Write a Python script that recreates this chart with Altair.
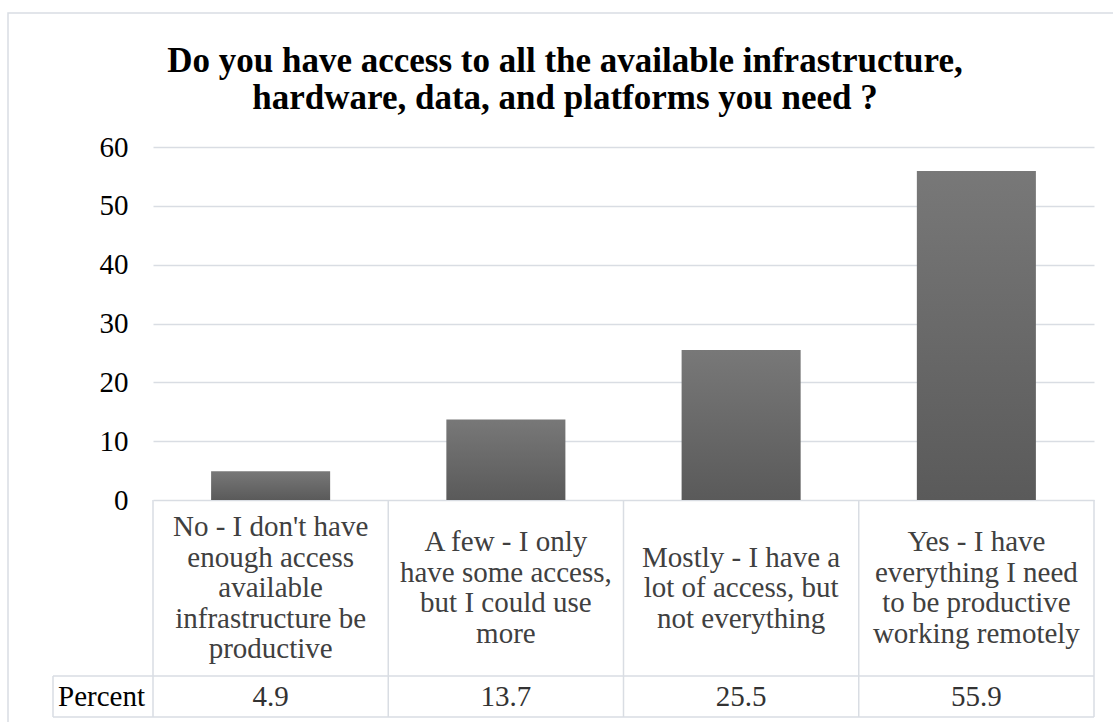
import altair as alt
import pandas as pd

# ---- data ----
categories = ["No", "A few", "Mostly", "Yes"]
label_lines = [
    ["No - I don't have", "enough access", "available", "infrastructure be", "productive"],
    ["A few - I only", "have some access,", "but I could use", "more"],
    ["Mostly - I have a", "lot of access, but", "not everything"],
    ["Yes - I have", "everything I need", "to be productive", "working remotely"],
]
percent = [4.9, 13.7, 25.5, 55.9]
y_ticks = [0, 10, 20, 30, 40, 50, 60]
title_lines = [
    "Do you have access to all the available infrastructure,",
    "hardware, data, and platforms you need ?",
]
row_label = "Percent"

df = pd.DataFrame({
    "cat": categories,
    "label": ["\n".join(l) for l in label_lines],
    "pct": percent,
})
one = pd.DataFrame({"k": [0]})

W, H = 941, 353
TABLE_ROW1_BOTTOM = 529
TABLE_BOTTOM = 570
LEFT_CELL = -100
GRID = "#d9dde3"
FONT = "Liberation Serif"
FS = 29
LH = 30.5

xscale = alt.Scale(domain=categories, paddingInner=0, paddingOuter=0)
x_enc = alt.X("cat:N", sort=categories, scale=xscale, axis=None)

y_enc = alt.Y(
    "pct:Q",
    scale=alt.Scale(domain=[0, 60], nice=False),
    axis=alt.Axis(
        values=y_ticks, title=None, domain=False, ticks=False,
        labelFont=FONT, labelFontSize=FS, labelColor="#000000",
        labelPadding=25, gridColor=GRID, gridWidth=1.5,
    ),
)

bars = alt.Chart(df).mark_bar(
    width=alt.RelativeBandSize(0.506),
    color=alt.Gradient(
        gradient="linear",
        stops=[alt.GradientStop(color="#787878", offset=0),
               alt.GradientStop(color="#5a5a5a", offset=1)],
        x1=0, x2=0, y1=0, y2=1,
    ),
).encode(x=x_enc, y=y_enc)

row1_center = (H + TABLE_ROW1_BOTTOM) / 2
cat_text = alt.Chart(df).transform_calculate(
    ypix=f"{row1_center} - (length(split(datum.label, '\\n')) - 1) * {LH / 2}"
).mark_text(
    font=FONT, fontSize=FS, color="#404040", lineBreak="\n",
    lineHeight=LH, baseline="middle", align="center",
).encode(x=x_enc, y=alt.Y("ypix:Q", scale=None), text="label:N")

val_text = alt.Chart(df).mark_text(
    font=FONT, fontSize=FS, color="#333333", baseline="middle", align="center",
).encode(
    x=x_enc,
    y=alt.value((TABLE_ROW1_BOTTOM + TABLE_BOTTOM) / 2),
    text=alt.Text("pct:Q", format=".1f"),
)

row_text = alt.Chart(one).mark_text(
    font=FONT, fontSize=FS, color="#000000", baseline="middle", align="left",
    text=row_label,
).encode(x=alt.value(LEFT_CELL + 5), y=alt.value((TABLE_ROW1_BOTTOM + TABLE_BOTTOM) / 2))

title_text = alt.Chart(one).mark_text(
    font=FONT, fontSize=35, fontWeight="bold", color="#000000",
    baseline="middle", align="center", lineHeight=37,
    text=title_lines,
).encode(x=alt.value(412), y=alt.value(-86))

vlines = alt.Chart(df).mark_rule(color=GRID, strokeWidth=1.5).encode(
    x=alt.X("cat:N", sort=categories, scale=xscale, axis=None, bandPosition=0),
    y=alt.value(H), y2=alt.value(TABLE_BOTTOM),
)
right_line = alt.Chart(one).mark_rule(color=GRID, strokeWidth=1.5).encode(
    x=alt.value(W), y=alt.value(H), y2=alt.value(TABLE_BOTTOM))
left_line = alt.Chart(one).mark_rule(color=GRID, strokeWidth=1.5).encode(
    x=alt.value(LEFT_CELL), y=alt.value(TABLE_ROW1_BOTTOM), y2=alt.value(TABLE_BOTTOM))
h1 = alt.Chart(one).mark_rule(color=GRID, strokeWidth=1.5).encode(
    x=alt.value(LEFT_CELL), x2=alt.value(W), y=alt.value(TABLE_ROW1_BOTTOM))
h2 = alt.Chart(one).mark_rule(color=GRID, strokeWidth=1.5).encode(
    x=alt.value(LEFT_CELL), x2=alt.value(W), y=alt.value(TABLE_BOTTOM))

frame = alt.Chart(one).mark_rect(fill="white", fillOpacity=0, stroke=GRID, strokeWidth=1.5).encode(
    x=alt.value(-145), x2=alt.value(980), y=alt.value(-134), y2=alt.value(600))

chart = alt.layer(
    frame, bars, vlines, right_line, left_line, h1, h2,
    cat_text, val_text, row_text, title_text,
).properties(
    width=W, height=H,
    autosize=alt.AutoSizeParams(type="none"),
    padding={"left": 153, "top": 147, "right": 19, "bottom": 222},
    background="white",
).configure_view(stroke=None)

chart.save("out.html", embed_options={"renderer": "svg", "actions": False})
